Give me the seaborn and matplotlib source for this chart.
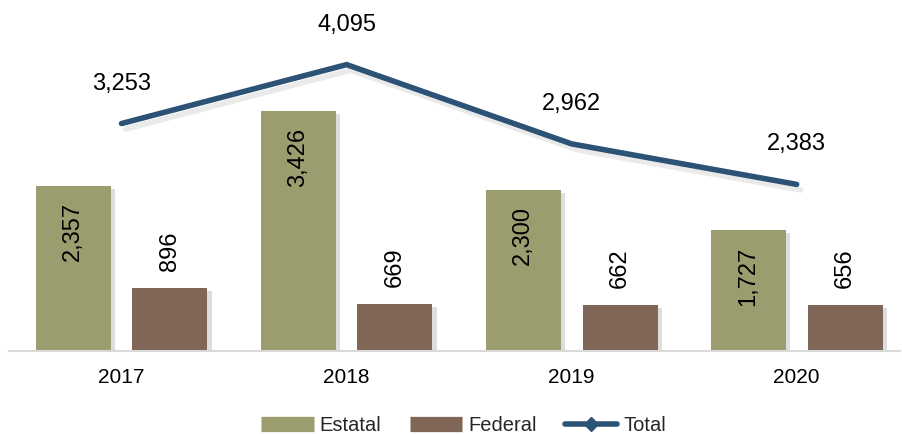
import pandas as pd
import numpy as np
import matplotlib
matplotlib.use("Agg")
import matplotlib.pyplot as plt
import matplotlib.patheffects as pe
from matplotlib.lines import Line2D
import seaborn as sns

# ==========================================
# DATA
# ==========================================

years = ["2017", "2018", "2019", "2020"]
estatal = [2357, 3426, 2300, 1727]
federal = [896, 669, 662, 656]
total = [3253, 4095, 2962, 2383]

df = pd.DataFrame({
    "Year": years * 2,
    "Tipo": ["Estatal"] * 4 + ["Federal"] * 4,
    "Value": estatal + federal
})

# ==========================================
# STYLE
# ==========================================

sns.set_style("white")
plt.rcParams["font.family"] = ["Liberation Sans", "DejaVu Sans"]

c_est = "#9c9d6e"
c_fed = "#7f6656"
c_tot = "#2c5275"

fig = plt.figure(figsize=(9.02, 4.34), dpi=100)
ax = fig.add_axes([0.01, 0.191, 0.988, 0.806])

# ==========================================
# BARS
# ==========================================

sns.barplot(
    data=df,
    x="Year",
    y="Value",
    hue="Tipo",
    palette=[c_est, c_fed],
    width=0.86,
    gap=0.225,
    saturation=1,
    linewidth=0,
    legend=False,
    ax=ax
)

shadow = [pe.SimplePatchShadow(offset=(3, -2), alpha=0.2, shadow_rgbFace="#555555"), pe.Normal()]
for p in ax.patches:
    p.set_path_effects(shadow)

# bar labels
for cont, vals, inside in zip(ax.containers, [estatal, federal], [True, False]):
    for bar, v in zip(cont, vals):
        x = bar.get_x() + bar.get_width() / 2
        y = bar.get_height()
        ax.annotate(
            f"{v:,}",
            (x, y),
            xytext=(0, -16 if inside else 17),
            textcoords="offset pixels",
            ha="center",
            va="top" if inside else "bottom",
            rotation=90,
            fontsize=17,
            color="black"
        )

# ==========================================
# TOTAL LINE
# ==========================================

xpos = np.arange(len(years))
sns.lineplot(
    x=xpos,
    y=total,
    color=c_tot,
    linewidth=4,
    ax=ax,
    path_effects=[pe.SimpleLineShadow(offset=(3, -4), alpha=0.12, shadow_color="#555555"), pe.Normal()]
)

for x, v in zip(xpos, total):
    ax.annotate(
        f"{v:,}",
        (x, v),
        xytext=(0, 40),
        textcoords="offset pixels",
        ha="center",
        va="center",
        fontsize=17,
        color="black"
    )

# ==========================================
# AXES
# ==========================================

ax.set_xlim(-0.5, 3.46)
ax.set_ylim(0, 5000)
ax.set_xlabel("")
ax.set_ylabel("")
ax.set_yticks([])
ax.tick_params(axis="x", length=0, labelsize=15, pad=12, labelcolor="black")
for s in ["top", "right", "left"]:
    ax.spines[s].set_visible(False)
ax.spines["bottom"].set_color("#d9d9d9")
ax.spines["bottom"].set_linewidth(1.5)

# ==========================================
# LEGEND
# ==========================================

handles = [
    Line2D([0], [0], color=c_est, lw=11, solid_capstyle="butt"),
    Line2D([0], [0], color=c_fed, lw=11, solid_capstyle="butt"),
    Line2D([0], [0], color=c_tot, lw=4, marker="D", markersize=7)
]
fig.legend(
    handles,
    ["Estatal", "Federal", "Total"],
    loc="lower center",
    bbox_to_anchor=(0.514, -0.045),
    ncol=3,
    frameon=False,
    fontsize=14.5,
    handlelength=2.6,
    handletextpad=0.3,
    columnspacing=1.4
)

plt.savefig("out.png", dpi=100)
